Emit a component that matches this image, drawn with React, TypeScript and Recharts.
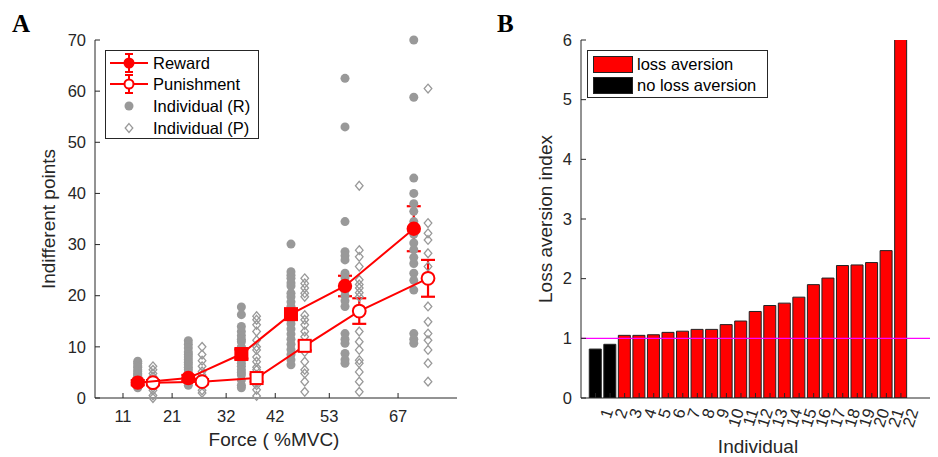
import React from 'react';
import {
  ComposedChart,
  BarChart,
  Bar,
  Cell,
  Scatter,
  XAxis,
  YAxis,
  ErrorBar,
  ReferenceLine,
  Legend,
} from 'recharts';

// ---- panel A data ----
const FORCE_TICKS = [11, 21, 32, 42, 53, 67];
const REWARD_X = [14, 24.3, 35.1, 45.2, 56.2, 70.2];
const PUNISH_X = [17.1, 27.1, 38.2, 48, 59.1, 73.1];
const REWARD_MEAN = [3.0, 3.9, 8.6, 16.4, 21.9, 33.1];
const REWARD_SEM = [0.5, 0.6, 0.9, 1.0, 2.0, 4.4];
const PUNISH_MEAN = [3.0, 3.2, 3.9, 10.2, 17.0, 23.4];
const PUNISH_SEM = [0.5, 0.5, 0.7, 0.9, 2.5, 3.6];

const INDIV_R: number[][] = [
  [7.2, 6.8, 6.3, 6.0, 5.5, 5.2, 4.8, 4.5, 4.2, 4.0, 3.6, 3.3, 3.0, 2.8, 2.5, 2.3, 2.0],
  [11.2, 10.5, 9.8, 9.0, 8.5, 8.0, 7.5, 7.0, 6.5, 6.0, 5.5, 5.0, 4.5, 4.0, 3.5, 3.0, 2.5],
  [17.8, 16.3, 14.0, 13.0, 12.2, 11.5, 11.0, 10.0, 9.0, 8.5, 7.5, 6.8, 6.2, 5.5, 5.0, 4.5, 3.5, 2.5, 2.0],
  [30.1, 24.7, 24.0, 23.4, 22.5, 21.9, 20.5, 19.8, 18.8, 17.9, 16.5, 15.3, 14.5, 13.5, 12.5, 11.5, 10.5, 9.5, 8.5, 7.5, 6.5],
  [62.5, 53.0, 34.5, 28.6, 27.8, 27.0, 24.4, 23.5, 22.0, 21.0, 20.0, 19.0, 17.9, 12.6, 11.5, 10.7, 8.7, 7.5, 6.8],
  [70.0, 58.8, 43.0, 40.0, 38.0, 36.5, 34.5, 32.0, 30.3, 29.0, 27.5, 26.3, 24.4, 23.0, 21.1, 12.6, 11.5, 10.7],
];

const INDIV_P: number[][] = [
  [6.2, 5.5, 4.8, 4.2, 3.5, 3.0, 2.5, 2.0, 1.5, 0.5, 0],
  [10.0, 8.5, 7.3, 6.2, 5.2, 4.5, 3.5, 3.0, 2.5, 1.5, 1.0],
  [16.0, 15.3, 14.3, 13.0, 11.3, 10.0, 9.4, 8.0, 7.1, 6.0, 5.5, 4.5, 3.0, 2.5, 1.6, 0.4],
  [23.4, 22.4, 21.5, 20.5, 19.8, 16.2, 15.3, 14.3, 13.0, 12.0, 10.2, 9.0, 7.1, 5.5, 4.8, 3.2, 1.2],
  [41.5, 28.9, 27.6, 25.7, 23.1, 22.2, 21.5, 20.6, 19.8, 17.5, 13.0, 11.0, 9.4, 7.4, 6.8, 5.1, 3.2, 1.2],
  [60.5, 34.2, 32.2, 30.9, 28.3, 25.7, 23.5, 17.9, 14.9, 12.6, 11.3, 9.4, 6.8, 3.2],
];

const Y_TICKS_A = [0, 10, 20, 30, 40, 50, 60, 70];

// ---- panel B data ----
const SUBJECTS = [1, 2, 3, 4, 5, 6, 7, 8, 9, 10, 11, 12, 13, 14, 15, 16, 17, 18, 19, 20, 21, 22];
const LOSS_INDEX = [
  0.82, 0.9, 1.05, 1.05, 1.06, 1.1, 1.12, 1.15, 1.15, 1.23, 1.29,
  1.45, 1.55, 1.59, 1.69, 1.9, 2.01, 2.22, 2.23, 2.27, 2.47, 6.3,
];
const Y_TICKS_B = [0, 1, 2, 3, 4, 5, 6];

const RED = '#ff0000';
const GRAY = '#999999';
const AX = '#262626';
const FONT = '"Liberation Sans", Arial, Helvetica, sans-serif';
const SQUARE_IDX = [2, 3];

const meanData = (xs: number[], ys: number[], es: number[]) =>
  xs.map((x, i) => ({ x, y: ys[i], err: es[i], i }));
const indivData = (xs: number[], groups: number[][]) =>
  groups.flatMap((g, i) => g.map((y) => ({ x: xs[i], y })));

const rewardData = meanData(REWARD_X, REWARD_MEAN, REWARD_SEM);
const punishData = meanData(PUNISH_X, PUNISH_MEAN, PUNISH_SEM);
const indRData = indivData(REWARD_X, INDIV_R);
const indPData = indivData(PUNISH_X, INDIV_P);
const barData = SUBJECTS.map((id, i) => ({ id, v: LOSS_INDEX[i] }));

// ---- shapes ----
const GrayDot = (p: any) => <circle cx={p.cx} cy={p.cy} r={4.5} fill={GRAY} />;
const Diamond = (p: any) => (
  <polygon
    points={`${p.cx},${p.cy - 4.4} ${p.cx + 3.8},${p.cy} ${p.cx},${p.cy + 4.4} ${p.cx - 3.8},${p.cy}`}
    fill="none"
    stroke={GRAY}
    strokeWidth={1.3}
  />
);
const RewardMarker = (p: any) =>
  SQUARE_IDX.includes(p.payload?.i) ? (
    <rect x={p.cx - 7} y={p.cy - 7} width={14} height={14} fill={RED} />
  ) : (
    <circle cx={p.cx} cy={p.cy} r={7.2} fill={RED} />
  );
const PunishMarker = (p: any) =>
  SQUARE_IDX.includes(p.payload?.i) ? (
    <rect x={p.cx - 6} y={p.cy - 6} width={12} height={12} fill="#fff" stroke={RED} strokeWidth={2} />
  ) : (
    <circle cx={p.cx} cy={p.cy} r={6.4} fill="#fff" stroke={RED} strokeWidth={2} />
  );

// ---- ticks (MATLAB style, pointing inward) ----
const makeYTick = (axisX: number) => (p: any) => (
  <g>
    <line x1={axisX} x2={axisX + 5} y1={p.y} y2={p.y} stroke={AX} />
    <text x={axisX - 9} y={p.y} dy="0.35em" textAnchor="end" fontSize={16.5} fontFamily={FONT} fill={AX}>
      {p.payload.value}
    </text>
  </g>
);
const makeXTick = (axisY: number) => (p: any) => (
  <g>
    <line x1={p.x} x2={p.x} y1={axisY} y2={axisY - 5} stroke={AX} />
    <text x={p.x} y={axisY + 24} textAnchor="middle" fontSize={16.5} fontFamily={FONT} fill={AX}>
      {p.payload.value}
    </text>
  </g>
);
const RotXTick = (p: any) => {
  const ax = p.x + 12;
  const ay = 409;
  return (
    <g>
      <line x1={p.x} x2={p.x} y1={398} y2={393} stroke={AX} />
      <text
        x={ax}
        y={ay}
        dominantBaseline="central"
        textAnchor="end"
        transform={`rotate(-72, ${ax}, ${ay})`}
        fontSize={16.5}
        fontFamily={FONT}
        fill={AX}
      >
        {p.payload.value}
      </text>
    </g>
  );
};

// ---- legends ----
const ErrIcon = ({ cx, cy, open }: { cx: number; cy: number; open?: boolean }) => (
  <g>
    <line x1={5} x2={43} y1={cy} y2={cy} stroke={RED} strokeWidth={2} />
    <line x1={cx} x2={cx} y1={cy - 9} y2={cy + 9} stroke={RED} strokeWidth={2} />
    <line x1={cx - 4} x2={cx + 4} y1={cy - 9} y2={cy - 9} stroke={RED} strokeWidth={2} />
    <line x1={cx - 4} x2={cx + 4} y1={cy + 9} y2={cy + 9} stroke={RED} strokeWidth={2} />
    {open ? (
      <circle cx={cx} cy={cy} r={4.5} fill="#fff" stroke={RED} strokeWidth={2} />
    ) : (
      <circle cx={cx} cy={cy} r={5.5} fill={RED} />
    )}
  </g>
);

const LegendA = () => {
  const rows = [13, 34, 56, 78];
  const labels = ['Reward', 'Punishment', 'Individual (R)', 'Individual (P)'];
  return (
    <svg width={154} height={89} style={{ display: 'block' }}>
      <rect x={0.5} y={0.5} width={153} height={88} fill="#fff" stroke={AX} />
      <ErrIcon cx={24} cy={rows[0]} />
      <ErrIcon cx={24} cy={rows[1]} open />
      <circle cx={24} cy={rows[2]} r={4.5} fill={GRAY} />
      <polygon
        points={`24,${rows[3] - 4.4} 27.8,${rows[3]} 24,${rows[3] + 4.4} 20.2,${rows[3]}`}
        fill="none"
        stroke={GRAY}
        strokeWidth={1.3}
      />
      {labels.map((t, i) => (
        <text key={t} x={48} y={rows[i]} dy="0.36em" fontSize={16.5} fontFamily={FONT} fill="#000">
          {t}
        </text>
      ))}
    </svg>
  );
};

const LegendB = () => (
  <svg width={181} height={48} style={{ display: 'block' }}>
    <rect x={0.5} y={0.5} width={180} height={47} fill="#fff" stroke={AX} />
    <rect x={6.5} y={6.5} width={39} height={16} fill={RED} stroke="#222" />
    <rect x={6.5} y={27.5} width={39} height={16} fill="#000" stroke="#222" />
    <text x={50} y={14.5} dy="0.36em" fontSize={16.5} fontFamily={FONT} fill="#000">loss aversion</text>
    <text x={50} y={35.5} dy="0.36em" fontSize={16.5} fontFamily={FONT} fill="#000">no loss aversion</text>
  </svg>
);

const labelStyle = { fontSize: 19, fontFamily: FONT, fill: AX } as const;
const titleStyle = {
  position: 'absolute',
  fontFamily: '"Liberation Serif", "Times New Roman", serif',
  fontWeight: 'bold',
  fontSize: 25,
} as const;

export default function App() {
  return (
    <div style={{ position: 'absolute', left: 0, top: 0, width: 938, height: 457, background: '#fff' }}>
      <div style={{ ...titleStyle, left: 12, top: 10 }}>A</div>
      <div style={{ ...titleStyle, left: 497, top: 10 }}>B</div>

      <div style={{ position: 'absolute', left: 0, top: 0 }}>
        <ComposedChart width={470} height={457} margin={{ top: 40, right: 13, bottom: 0, left: 0 }}>
          <XAxis
            type="number"
            dataKey="x"
            domain={[5.3, 79]}
            ticks={FORCE_TICKS}
            interval={0}
            height={59}
            stroke={AX}
            tickLine={false}
            tick={makeXTick(398)}
            label={{
              content: () => (
                <text x={274} y={446} textAnchor="middle" {...labelStyle}>
                  Force ( %MVC)
                </text>
              ),
            }}
          />
          <YAxis
            type="number"
            dataKey="y"
            domain={[0, 70]}
            ticks={Y_TICKS_A}
            interval={0}
            width={95}
            stroke={AX}
            tickLine={false}
            tick={makeYTick(95)}
            label={{
              content: () => (
                <text x={55} y={219} textAnchor="middle" transform="rotate(-90, 55, 219)" {...labelStyle}>
                  Indifferent points
                </text>
              ),
            }}
          />
          <Scatter data={indRData} shape={GrayDot} isAnimationActive={false} />
          <Scatter data={indPData} shape={Diamond} isAnimationActive={false} />
          <Scatter
            data={punishData}
            shape={PunishMarker}
            line={{ stroke: RED, strokeWidth: 2 }}
            lineType="joint"
            isAnimationActive={false}
          >
            <ErrorBar dataKey="err" direction="y" width={7} stroke={RED} strokeWidth={2.2} isAnimationActive={false} />
          </Scatter>
          <Scatter
            data={rewardData}
            shape={RewardMarker}
            line={{ stroke: RED, strokeWidth: 2 }}
            lineType="joint"
            isAnimationActive={false}
          >
            <ErrorBar dataKey="err" direction="y" width={7} stroke={RED} strokeWidth={2.2} isAnimationActive={false} />
          </Scatter>
          <Legend
            layout="vertical"
            align="center"
            verticalAlign="middle"
            content={() => <LegendA />}
            wrapperStyle={{ position: 'absolute', left: 105, top: 50, width: 154, height: 89 }}
          />
        </ComposedChart>
      </div>

      <div style={{ position: 'absolute', left: 470, top: 0 }}>
        <BarChart width={468} height={457} data={barData} margin={{ top: 40, right: 8, bottom: 0, left: 0 }}>
          <XAxis
            type="number"
            dataKey="id"
            domain={[0, 24]}
            ticks={SUBJECTS}
            interval={0}
            height={59}
            stroke={AX}
            tickLine={false}
            tick={RotXTick}
            label={{
              content: () => (
                <text x={288} y={453} textAnchor="middle" {...labelStyle}>
                  Individual
                </text>
              ),
            }}
          />
          <YAxis
            type="number"
            domain={[0, 6]}
            ticks={Y_TICKS_B}
            interval={0}
            allowDataOverflow
            width={111}
            stroke={AX}
            tickLine={false}
            tick={makeYTick(111)}
            label={{
              content: () => (
                <text x={82} y={219} textAnchor="middle" transform="rotate(-90, 82, 219)" {...labelStyle}>
                  Loss aversion index
                </text>
              ),
            }}
          />
          <Bar dataKey="v" barSize={12} stroke="#222" strokeWidth={1} isAnimationActive={false}>
            {barData.map((d) => (
              <Cell key={d.id} fill={d.v > 1 ? RED : '#000'} />
            ))}
          </Bar>
          <ReferenceLine y={1} stroke="#ff00ff" strokeWidth={1.2} />
          <Legend
            layout="vertical"
            align="center"
            verticalAlign="middle"
            content={() => <LegendB />}
            wrapperStyle={{ position: 'absolute', left: 117, top: 50, width: 181, height: 48 }}
          />
        </BarChart>
      </div>
    </div>
  );
}
